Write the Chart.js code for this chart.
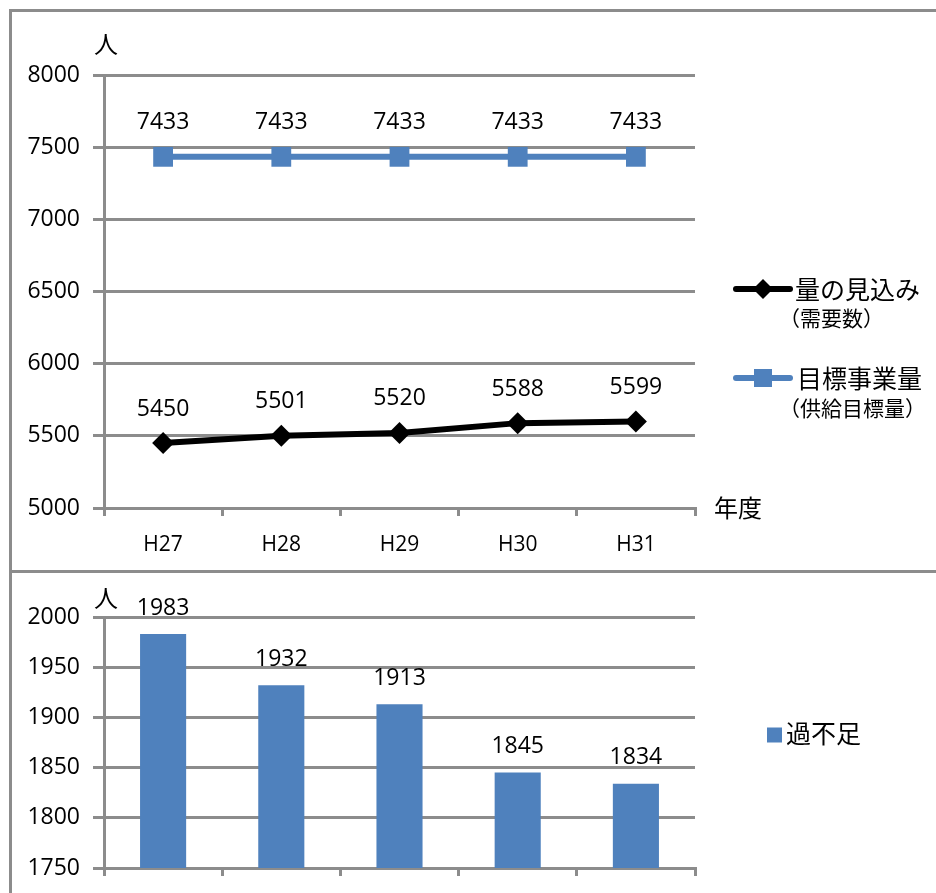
<!DOCTYPE html>
<html>
<head>
<meta charset="utf-8">
<script src="https://cdn.jsdelivr.net/npm/chart.js@4.4.1/dist/chart.umd.min.js"></script>
<style>
  html, body { margin: 0; padding: 0; background: #fff; }
  #wrap { position: relative; width: 936px; height: 893px; overflow: hidden; }
  .frame { position: absolute; background: #8c8c8c; z-index: 2; }
  #top { position: absolute; left: 0; top: 0; width: 936px; height: 571px; }
  #bottomBox { position: absolute; left: 0; top: 572px; width: 936px; height: 321px; overflow: hidden; }
  #bottom { position: absolute; left: 0; top: 0; width: 936px; height: 400px; }
</style>
</head>
<body>
<div id="wrap">
  <div class="frame" style="left:9px; top:9px; width:927px; height:3px;"></div>
  <div class="frame" style="left:9px; top:9px; width:3px; height:884px;"></div>
  <div class="frame" style="left:9px; top:570px; width:927px; height:3px;"></div>
  <div id="top"><canvas id="lineChart" width="936" height="571"></canvas></div>
  <div id="bottomBox"><div id="bottom"><canvas id="barChart" width="936" height="400"></canvas></div></div>
</div>
<script>
const years = ['H27', 'H28', 'H29', 'H30', 'H31'];
const demand = [5450, 5501, 5520, 5588, 5599];       // 量の見込み（需要数）
const target = [7433, 7433, 7433, 7433, 7433];       // 目標事業量（供給目標量）
const shortage = [1983, 1932, 1913, 1845, 1834];     // 過不足
const lineTicks = [5000, 5500, 6000, 6500, 7000, 7500, 8000];
const barTicks = [1750, 1800, 1850, 1900, 1950, 2000];

const FONT = '"Open Sans", "Noto Sans CJK JP", sans-serif';
const JP = '"Noto Sans CJK JP", sans-serif';
const GRID = '#8c8c8c';
const BLUE = '#4F81BD';

Chart.defaults.font.family = FONT;
Chart.defaults.color = '#000';

// value labels above each point / bar
const valueLabels = {
    id: 'valueLabels',
    afterDatasetsDraw(chart, args, opts) {
        const ctx = chart.ctx;
        ctx.save();
        ctx.font = opts.size + 'px ' + FONT;
        ctx.fillStyle = '#000';
        ctx.textAlign = 'center';
        ctx.textBaseline = 'middle';
        chart.data.datasets.forEach((ds, i) => {
            chart.getDatasetMeta(i).data.forEach((el, j) => {
                ctx.fillText(String(ds.data[j]), el.x, el.y - opts.offset);
            });
        });
        ctx.restore();
    }
};

// extra texts and hand drawn legend
const extras = {
    id: 'extras',
    afterDraw(chart, args, opts) {
        const ctx = chart.ctx;
        ctx.save();
        ctx.fillStyle = '#000';
        ctx.textBaseline = 'middle';
        (opts.texts || []).forEach(t => {
            ctx.font = t.size + 'px ' + JP;
            ctx.textAlign = t.align || 'left';
            ctx.fillText(t.text, t.x, t.y);
        });
        (opts.marks || []).forEach(m => {
            ctx.fillStyle = m.color;
            ctx.strokeStyle = m.color;
            if (m.line) {
                ctx.lineWidth = 6;
                ctx.lineCap = 'round';
                ctx.beginPath();
                ctx.moveTo(m.x - 27, m.y);
                ctx.lineTo(m.x + 27, m.y);
                ctx.stroke();
            }
            ctx.beginPath();
            if (m.shape === 'diamond') {
                ctx.moveTo(m.x - m.r, m.y);
                ctx.lineTo(m.x, m.y - m.r);
                ctx.lineTo(m.x + m.r, m.y);
                ctx.lineTo(m.x, m.y + m.r);
                ctx.closePath();
            } else {
                ctx.rect(m.x - m.r, m.y - m.r, m.r * 2, m.r * 2);
            }
            ctx.fill();
        });
        ctx.restore();
    }
};

function yScale(ticks, width) {
    return {
        min: ticks[0], max: ticks[ticks.length - 1],
        ticks: { padding: 13, font: { size: 23 }, color: '#000', callback: v => String(v) },
        grid: { color: GRID, lineWidth: 3, tickLength: 11 },
        border: { color: GRID, width: 3 },
        afterBuildTicks: s => { s.ticks = ticks.map(v => ({ value: v })); },
        afterFit: s => { s.width = width; }
    };
}

function xScale() {
    return {
        offset: true,
        ticks: { padding: 16, font: { size: 21 }, color: '#000' },
        grid: { offset: true, drawOnChartArea: false, color: GRID, lineWidth: 3, tickLength: 8 },
        border: { color: GRID, width: 3 },
        afterFit: s => { s.height = 63; }
    };
}

new Chart(document.getElementById('lineChart').getContext('2d'), {
    type: 'line',
    data: {
        labels: years,
        datasets: [
            {
                label: '量の見込み（需要数）',
                data: demand,
                borderColor: '#000',
                backgroundColor: '#000',
                borderWidth: 6,
                pointStyle: 'rectRot',
                pointRadius: 11,
                pointBorderWidth: 0,
                pointBackgroundColor: '#000',
                tension: 0,
            },
            {
                label: '目標事業量（供給目標量）',
                data: target,
                borderColor: BLUE,
                backgroundColor: BLUE,
                borderWidth: 6,
                pointStyle: 'rect',
                pointRadius: 14,
                pointBorderWidth: 0,
                pointBackgroundColor: BLUE,
                tension: 0,
            },
        ],
    },
    options: {
        responsive: false,
        animation: false,
        layout: { padding: { top: 75, right: 241, bottom: 0, left: 0 } },
        scales: {
            x: xScale(),
            y: yScale(lineTicks, 104),
        },
        plugins: {
            legend: { display: false },
            tooltip: { enabled: false },
            valueLabels: { size: 23, offset: 34 },
            extras: {
                texts: [
                    { text: '人', x: 94, y: 44, size: 24 },
                    { text: '年度', x: 714, y: 508, size: 24 },
                    { text: '量の見込み', x: 795, y: 289, size: 25 },
                    { text: '（需要数）', x: 779, y: 318, size: 21 },
                    { text: '目標事業量', x: 797, y: 378, size: 25 },
                    { text: '（供給目標量）', x: 779, y: 408, size: 21 },
                ],
                marks: [
                    { x: 763, y: 289, r: 10, shape: 'diamond', color: '#000', line: true },
                    { x: 763, y: 378, r: 9, shape: 'square', color: BLUE, line: true },
                ],
            },
        },
    },
    plugins: [valueLabels, extras],
});

new Chart(document.getElementById('barChart').getContext('2d'), {
    type: 'bar',
    data: {
        labels: years,
        datasets: [
            {
                label: '過不足',
                data: shortage,
                backgroundColor: BLUE,
                categoryPercentage: 1,
                barPercentage: 0.39,
            },
        ],
    },
    options: {
        responsive: false,
        animation: false,
        layout: { padding: { top: 45, right: 241, bottom: 41, left: 0 } },
        scales: {
            x: xScale(),
            y: yScale(barTicks, 104),
        },
        plugins: {
            legend: { display: false },
            tooltip: { enabled: false },
            valueLabels: { size: 23, offset: 26 },
            extras: {
                texts: [
                    { text: '人', x: 94, y: 26, size: 24 },
                    { text: '過不足', x: 786, y: 161, size: 25 },
                ],
                marks: [
                    { x: 774.5, y: 163, r: 7.5, shape: 'square', color: BLUE },
                ],
            },
        },
    },
    plugins: [valueLabels, extras],
});
</script>
</body>
</html>
